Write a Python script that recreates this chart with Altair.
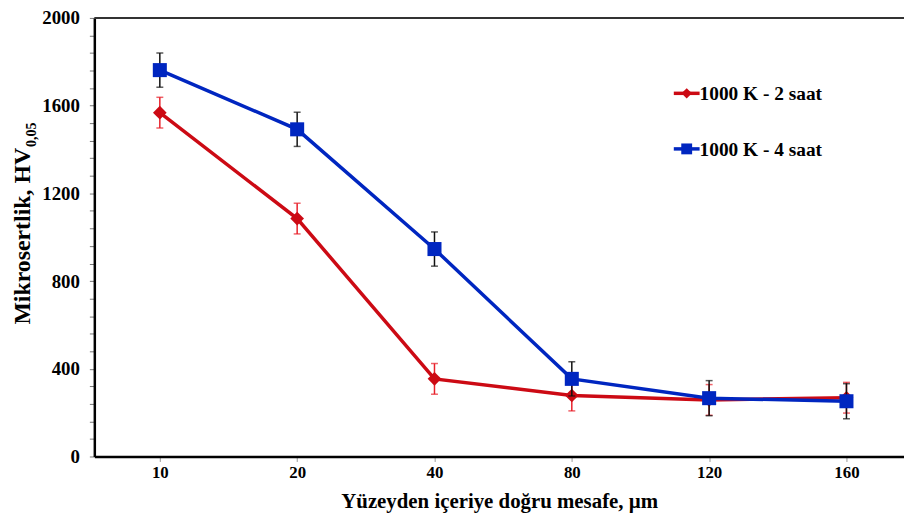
import altair as alt
import pandas as pd

distances = ["10", "20", "40", "80", "120", "160"]
series_names = ["1000 K - 2 saat", "1000 K - 4 saat"]
hv_2h = [1568, 1085, 354, 278, 258, 268]
err_2h = [70, 70, 70, 70, 70, 70]
hv_4h = [1762, 1492, 946, 354, 266, 252]
err_4h = [78, 78, 78, 78, 80, 80]

line_colors = ["#CC0A14", "#0026C0"]
err_colors = ["#E8202A", "#111111"]
shapes = ["diamond", "square"]
sizes = [190, 200]

rows = []
for s, vals, errs in [(series_names[0], hv_2h, err_2h), (series_names[1], hv_4h, err_4h)]:
    for idx, (d, v, e) in enumerate(zip(distances, vals, errs)):
        rows.append({"pos": idx, "dist": d, "series": s, "hv": v, "lo": v - e, "hi": v + e})
df = pd.DataFrame(rows)

TOP = 8
W, H = 816, 450 - TOP
FONT = "Liberation Serif"

label_list = "[" + ",".join("'" + d + "'" for d in distances) + "]"
x_scale = alt.Scale(domain=[-0.477, 5.419], nice=False, zero=False)
x_enc = alt.X("pos:Q", scale=x_scale,
              axis=alt.Axis(title="Yüzeyden içeriye doğru mesafe, µm", labelAngle=0,
                            values=list(range(len(distances))), tickCount=len(distances),
                            labelExpr=label_list + "[datum.value]",
                            labelFont=FONT, labelFontSize=17, labelFontWeight="bold",
                            labelColor="black", labelPadding=3, labelOverlap=False,
                            titleFont=FONT, titleFontSize=21, titleFontWeight="bold",
                            titleColor="black", titlePadding=10,
                            domainColor="black", domainWidth=2.5, grid=False,
                            tickColor="#999", tickSize=5, tickWidth=1))
y_scale = alt.Scale(domain=[0, 2000], nice=False)
y_ticks = list(range(0, 2001, 80))
y_axis = alt.Axis(title=None, values=y_ticks, tickCount=len(y_ticks) + 5,
                  labelExpr="datum.value % 400 == 0 ? datum.label : ''",
                  format="d", labelOverlap=False,
                  labelFont=FONT, labelFontSize=19, labelFontWeight="bold",
                  labelColor="black", labelPadding=10,
                  domainColor="black", domainWidth=2.5,
                  tickColor="#777", tickSize=5, tickWidth=1, grid=False)

layers = []
for i, s in enumerate(series_names):
    d = df[df.series == s]
    base = alt.Chart(d)
    line = base.mark_line(color=line_colors[i], strokeWidth=3.5).encode(
        x=x_enc, y=alt.Y("hv:Q", scale=y_scale, axis=y_axis))
    rule = base.mark_rule(color=err_colors[i], strokeWidth=1.5).encode(
        x="pos:Q", y="lo:Q", y2="hi:Q")
    cap_lo = base.mark_tick(color=err_colors[i], size=7, thickness=1.5, orient="horizontal").encode(
        x="pos:Q", y="lo:Q")
    cap_hi = base.mark_tick(color=err_colors[i], size=7, thickness=1.5, orient="horizontal").encode(
        x="pos:Q", y="hi:Q")
    pts = base.mark_point(shape=shapes[i], size=sizes[i], filled=True, opacity=1,
                          color=line_colors[i]).encode(x="pos:Q", y="hv:Q")
    layers += [line, rule, cap_lo, cap_hi, pts]

# custom legend
leg_y = [92 - 8 - TOP, 148 - 8 - TOP]
for i, s in enumerate(series_names):
    ldf = pd.DataFrame({"label": [s]})
    lb = alt.Chart(ldf)
    layers.append(lb.mark_rule(color=line_colors[i], strokeWidth=3.5).encode(
        x=alt.value(584), x2=alt.value(610), y=alt.value(leg_y[i])))
    layers.append(lb.mark_point(shape=shapes[i], size=110 if i == 0 else 120, filled=True,
                                opacity=1, color=line_colors[i]).encode(
        x=alt.value(597), y=alt.value(leg_y[i])))
    layers.append(lb.mark_text(align="left", baseline="middle", font=FONT, fontSize=19.5,
                               fontWeight="bold", color="black").encode(
        x=alt.value(610), y=alt.value(leg_y[i] + 1), text="label:N"))

# top border
layers.append(alt.Chart(pd.DataFrame({"a": [0]})).mark_rule(color="#333", strokeWidth=2).encode(
    x=alt.value(0), x2=alt.value(W), y=alt.value(0)))

# y axis title with subscript
tdf = pd.DataFrame({"main": ["Mikrosertlik, HV"], "sub": ["0,05"]})
layers.append(alt.Chart(tdf).mark_text(angle=270, align="right", baseline="middle", font=FONT,
                                       fontSize=24, fontWeight="bold", color="black").encode(
    x=alt.value(-72), y=alt.value(147 - 8 - TOP), text="main:N"))
layers.append(alt.Chart(tdf).mark_text(angle=270, align="left", baseline="middle", font=FONT,
                                       fontSize=14, fontWeight="bold", color="black").encode(
    x=alt.value(-63), y=alt.value(146 - 8 - TOP), text="sub:N"))

chart = alt.layer(*layers).properties(
    width=W, height=H,
    autosize=alt.AutoSizeParams(type="none"),
    padding={"left": 87, "top": TOP, "right": 0, "bottom": 62},
).configure_view(stroke=None).configure(background="white")

chart.save("out.html", embed_options={"renderer": "svg", "actions": False})
